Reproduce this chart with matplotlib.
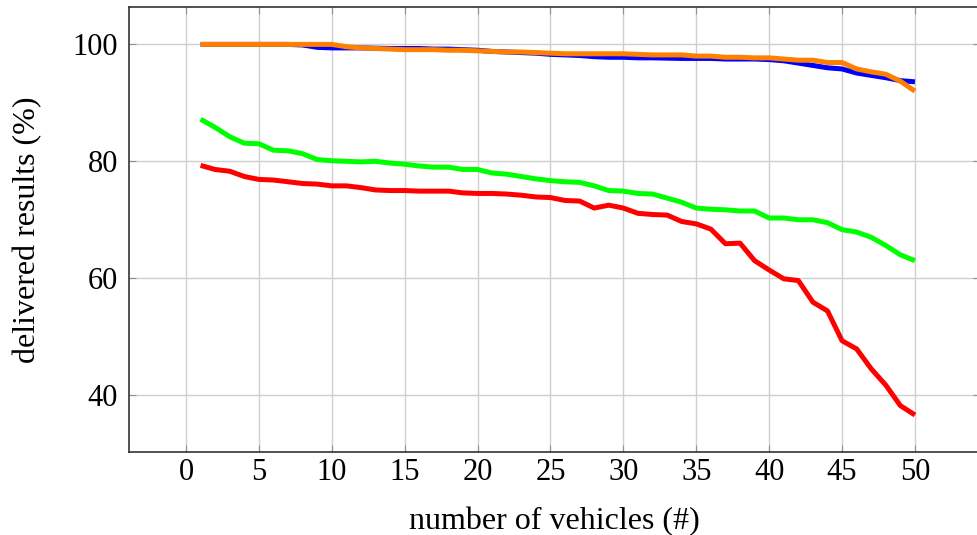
import matplotlib
matplotlib.use("Agg")
import matplotlib.pyplot as plt
import numpy as np

vehicles = list(range(1, 51))

blue = [100.0, 100.0, 100.0, 100.0, 100.0, 100.0, 100.0, 99.9, 99.5, 99.4,
        99.4, 99.4, 99.35, 99.3, 99.3, 99.3, 99.2, 99.2, 99.1, 99.0,
        98.8, 98.7, 98.6, 98.5, 98.3, 98.2, 98.1, 97.9, 97.8, 97.8,
        97.7, 97.7, 97.65, 97.6, 97.6, 97.6, 97.5, 97.5, 97.5, 97.4,
        97.2, 96.8, 96.4, 96.0, 95.8, 95.1, 94.7, 94.3, 93.8, 93.6]

orange = [100.0, 100.0, 100.0, 100.0, 100.0, 100.0, 100.0, 100.0, 100.0, 100.0,
          99.6, 99.4, 99.3, 99.2, 99.1, 99.1, 99.1, 99.0, 99.0, 98.9,
          98.8, 98.7, 98.7, 98.6, 98.5, 98.4, 98.4, 98.4, 98.4, 98.4,
          98.3, 98.2, 98.2, 98.2, 98.0, 98.0, 97.8, 97.8, 97.7, 97.7,
          97.5, 97.3, 97.3, 96.9, 96.9, 95.8, 95.3, 94.9, 93.7, 92.0]

green = [87.2, 85.8, 84.2, 83.1, 83.0, 81.9, 81.8, 81.3, 80.3, 80.1,
         80.0, 79.9, 80.0, 79.7, 79.5, 79.2, 79.0, 79.0, 78.6, 78.6,
         78.0, 77.8, 77.4, 77.0, 76.7, 76.5, 76.4, 75.8, 75.0, 74.9,
         74.5, 74.4, 73.7, 73.0, 72.0, 71.8, 71.7, 71.5, 71.5, 70.3,
         70.3, 70.0, 70.0, 69.5, 68.3, 67.9, 67.0, 65.6, 64.0, 63.0]

red = [79.3, 78.6, 78.3, 77.4, 76.9, 76.8, 76.5, 76.2, 76.1, 75.8,
       75.8, 75.5, 75.1, 75.0, 75.0, 74.9, 74.9, 74.9, 74.6, 74.5,
       74.5, 74.4, 74.2, 73.9, 73.8, 73.3, 73.2, 72.0, 72.5, 72.0,
       71.1, 70.9, 70.8, 69.7, 69.3, 68.4, 65.9, 66.0, 63.0, 61.4,
       59.9, 59.6, 55.9, 54.4, 49.3, 47.9, 44.5, 41.7, 38.2, 36.6]

xticks = [0, 5, 10, 15, 20, 25, 30, 35, 40, 45, 50]
yticks = [40, 60, 80, 100]

plt.rcParams['font.family'] = ['Liberation Serif', 'DejaVu Serif']

fig = plt.figure(figsize=(9.78, 5.35), dpi=100)
ax = fig.add_axes([129/978, (535-452)/535, 851/978, 445/535])

lw = 3.6
for ys, col, z in [(blue, (0, 0, 1), 3), (orange, (1, 0.5, 0), 4),
                   (green, (0, 1, 0), 3), (red, (1, 0, 0), 3)]:
    ax.plot(vehicles, ys, color=col, lw=lw, solid_capstyle='butt',
            solid_joinstyle='round', zorder=z)

ax.set_xlim(-3.91, 54.46)
ax.set_ylim(30.27, 106.4)
ax.set_xticks(xticks)
ax.set_yticks(yticks)
ax.grid(True, color='#d0d0d0', lw=1.0)
ax.set_axisbelow(True)
ax.tick_params(direction='in', length=5, color='#909090', labelsize=22,
               top=True, right=True)
ax.tick_params(axis='x', pad=4)
ax.tick_params(axis='y', pad=8)
for s in ax.spines.values():
    s.set_color('#333333')
    s.set_linewidth(1.2)

ax.set_xlabel('number of vehicles (#)', fontsize=23, labelpad=15)
ax.set_ylabel('delivered results (%)', fontsize=23, labelpad=22)

fig.savefig('out.png', dpi=100)
